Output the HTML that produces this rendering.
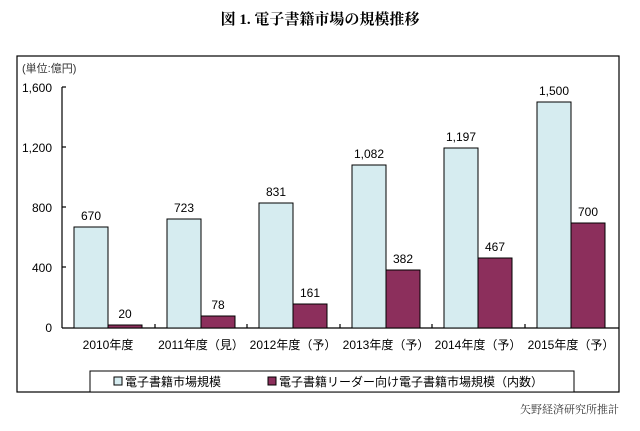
<!DOCTYPE html>
<html><head><meta charset="utf-8"><style>
body{margin:0;background:#fff;width:640px;height:426px;overflow:hidden}
text{font-family:"Liberation Sans","Noto Sans CJK JP",sans-serif}
</style></head><body>
<svg width="640" height="426" xmlns="http://www.w3.org/2000/svg">
<text x="320" y="24" text-anchor="middle" font-size="15" font-weight="bold" style="font-family:'Liberation Serif','Noto Serif CJK SC',serif">図 1. 電子書籍市場の規模推移</text>
<rect x="17" y="56" width="602" height="336" fill="none" stroke="#000" stroke-width="1.2"/>
<text x="22" y="72" font-size="11" fill="#333">(単位:億円)</text>
<g font-size="12" text-anchor="end" fill="#000">
<text x="52" y="92">1,600</text><text x="52" y="152">1,200</text><text x="52" y="212">800</text><text x="52" y="272">400</text><text x="52" y="332">0</text>
</g>
<g stroke="#000" stroke-width="1.2">
<line x1="62" y1="87" x2="62" y2="328"/>
<line x1="62" y1="328" x2="619" y2="328"/>
<line x1="62" y1="87" x2="66" y2="87"/><line x1="62" y1="147" x2="66" y2="147"/><line x1="62" y1="207" x2="66" y2="207"/><line x1="62" y1="267" x2="66" y2="267"/>
<line x1="155" y1="328" x2="155" y2="324"/><line x1="247" y1="328" x2="247" y2="324"/><line x1="340" y1="328" x2="340" y2="324"/><line x1="432" y1="328" x2="432" y2="324"/><line x1="525" y1="328" x2="525" y2="324"/>
</g>
<g stroke="#000" stroke-width="1">
<rect x="74" y="227" width="34" height="101" fill="#d6ecf0"/><rect x="108" y="325" width="34" height="3" fill="#8c2f5c"/>
<rect x="167" y="219" width="34" height="109" fill="#d6ecf0"/><rect x="201" y="316" width="34" height="12" fill="#8c2f5c"/>
<rect x="259" y="203" width="34" height="125" fill="#d6ecf0"/><rect x="293" y="304" width="34" height="24" fill="#8c2f5c"/>
<rect x="352" y="165" width="34" height="163" fill="#d6ecf0"/><rect x="386" y="270" width="34" height="58" fill="#8c2f5c"/>
<rect x="444" y="148" width="34" height="180" fill="#d6ecf0"/><rect x="478" y="258" width="34" height="70" fill="#8c2f5c"/>
<rect x="537" y="102" width="34" height="226" fill="#d6ecf0"/><rect x="571" y="223" width="34" height="105" fill="#8c2f5c"/>
</g>
<g font-size="12" text-anchor="middle">
<text x="91" y="220">670</text><text x="125" y="318">20</text>
<text x="184" y="212">723</text><text x="218" y="309">78</text>
<text x="276" y="196">831</text><text x="310" y="297">161</text>
<text x="369" y="158">1,082</text><text x="403" y="263">382</text>
<text x="461" y="141">1,197</text><text x="495" y="251">467</text>
<text x="554" y="95">1,500</text><text x="588" y="216">700</text>
</g>
<g font-size="12" text-anchor="middle">
<text x="108" y="349">2010年度</text><text x="201" y="349">2011年度（見）</text><text x="293" y="349">2012年度（予）</text><text x="386" y="349">2013年度（予）</text><text x="478" y="349">2014年度（予）</text><text x="571" y="349">2015年度（予）</text>
</g>
<rect x="90" y="371" width="484" height="21" fill="#fff" stroke="#000" stroke-width="1"/>
<rect x="114" y="377" width="8" height="8" fill="#d6ecf0" stroke="#000"/>
<text x="125" y="386" font-size="12">電子書籍市場規模</text>
<rect x="268" y="377" width="8" height="8" fill="#8c2f5c" stroke="#000"/>
<text x="279" y="386" font-size="12">電子書籍リーダー向け電子書籍市場規模（内数）</text>
<text x="619" y="413" text-anchor="end" font-size="11" fill="#333" style="font-family:'Liberation Serif','Noto Serif CJK SC',serif">矢野経済研究所推計</text>
</svg>
</body></html>
